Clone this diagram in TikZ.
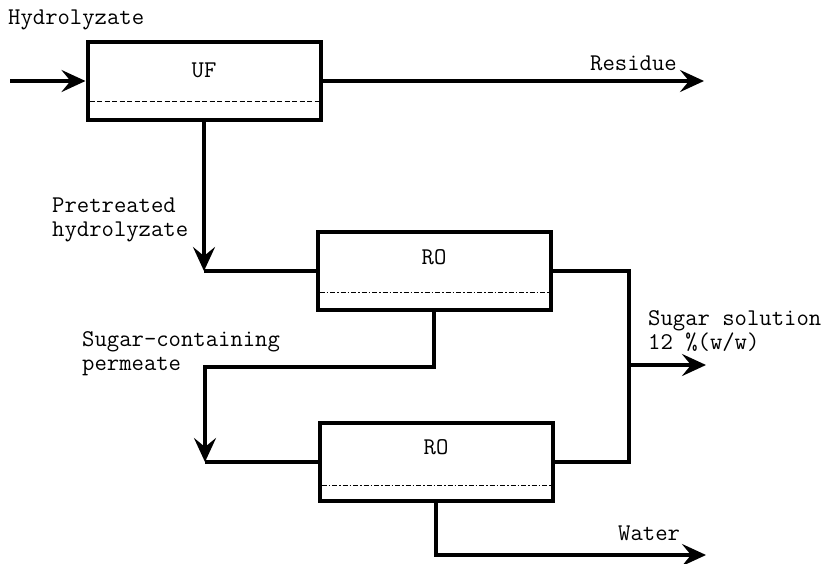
\documentclass[tikz,border=0pt]{standalone}
\usepackage{fontspec}
\usetikzlibrary{arrows.meta,positioning,calc}

\begin{document}
\begin{tikzpicture}[x=1pt,y=-1pt,>={Stealth[length=24pt,width=22pt,inset=9pt]},
  unit/.style={draw,line width=4pt,minimum width=233pt,minimum height=78pt,inner sep=0pt},
  line/.style={line width=3.6pt},
  flow/.style={line width=3.6pt,->},
  txt/.style={font=\ttfamily\fontsize{24}{24}\selectfont,inner sep=0pt,align=left},
  uflayer/.style={line width=1pt,dash pattern=on 5pt off 2.5pt},
  rolayer/.style={line width=1pt,dash pattern=on 5pt off 2pt on 1.5pt off 2pt}]
\useasboundingbox (0,0) rectangle (830,563);
\node[unit] (uf) at (204,81) {};
\node[unit] (ro1) at (434,271) {};
\node[unit] (ro2) at (436,462) {};
\node[txt] (uft) at (204,70) {UF};
\node[txt] (ro1t) at (434,257) {RO};
\node[txt] (ro2t) at (436,447) {RO};
\draw[uflayer] ($(uf.south west)+(4,-21)$) -- ($(uf.south east)+(-4,-21)$);
\draw[rolayer] ($(ro1.south west)+(4,-20)$) -- ($(ro1.south east)+(-4,-20)$);
\draw[rolayer] ($(ro2.south west)+(4,-18)$) -- ($(ro2.south east)+(-4,-18)$);
% feed and residue
\coordinate (feed) at (10,81);
\coordinate (res) at (704,81);
\draw[flow] (feed) -- (uf.west);
\draw[flow] (uf.east) -- (res);
% UF permeate to first RO
\coordinate (c1) at (204,271);
\draw[flow] (uf.south) -- (c1);
\draw[line] (c1) -- (ro1.west);
% concentrate of both RO units
\coordinate (c2) at (629,271);
\coordinate (c3) at (629,462);
\coordinate (c4) at (629,365);
\coordinate (sug) at (706,365);
\draw[line] (ro1.east) -- (c2) -- (c3) -- (ro2.east);
\draw[flow] (c4) -- (sug);
% permeate of first RO to second RO
\coordinate (c5) at (434,367);
\coordinate (c6) at (205,367);
\coordinate (c7) at (205,462);
\draw[flow] (ro1.south) -- (c5) -- (c6) -- (c7);
\draw[line] (c7) -- (ro2.west);
% water
\coordinate (c8) at (436,555);
\coordinate (wat) at (706,555);
\draw[flow] (ro2.south) -- (c8) -- (wat);
% labels
\node[txt,anchor=west] (lhyd) at (8,20) {Hydrolyzate};
\node[txt,anchor=west] (lres) at (590,63) {Residue};
\node[txt,anchor=west] (lpre) at (52,220) {Pretreated\\hydrolyzate};
\node[txt,anchor=west] (lper) at (82,354) {Sugar-containing\\permeate};
\node[txt,anchor=west] (lsug) at (648,331) {Sugar solution\\12 \%(w/w)};
\node[txt,anchor=west] (lwat) at (618,533) {Water};
\end{tikzpicture}
\end{document}
